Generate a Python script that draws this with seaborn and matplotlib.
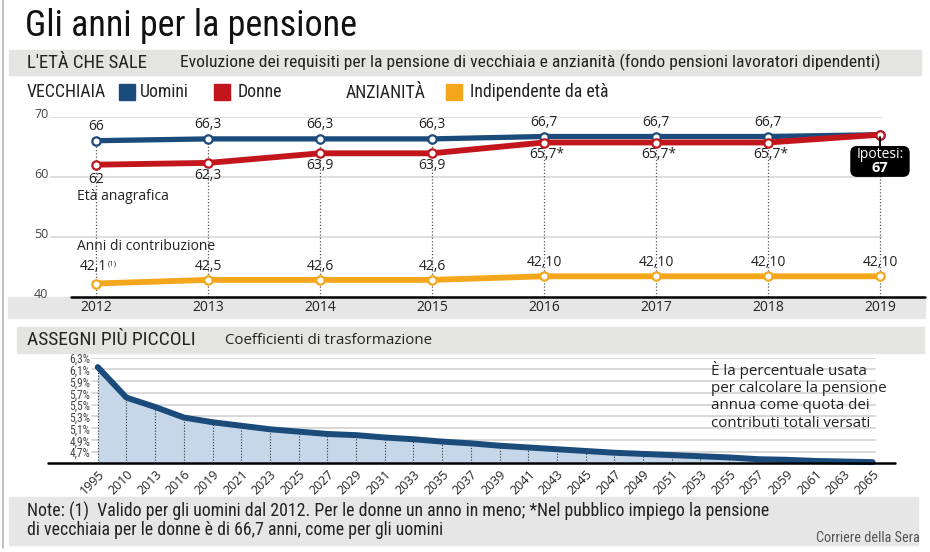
import matplotlib
matplotlib.use("Agg")
import matplotlib.pyplot as plt
import matplotlib.transforms as mtrans
import seaborn as sns
from matplotlib import font_manager
from matplotlib.patches import Rectangle, FancyBboxPatch
from matplotlib.lines import Line2D

# ---------------- data ----------------
years = [2012, 2013, 2014, 2015, 2016, 2017, 2018, 2019]
uomini = [66, 66.3, 66.3, 66.3, 66.7, 66.7, 66.7, 67]
donne = [62, 62.3, 63.9, 63.9, 65.7, 65.7, 65.7, 67]
anzianita = [42.2, 42.8, 42.8, 42.8, 43.4, 43.4, 43.4, 43.4]
uomini_labels = ["66", "66,3", "66,3", "66,3", "66,7", "66,7", "66,7", ""]
donne_labels = ["62", "62,3", "63,9", "63,9", "65,7*", "65,7*", "65,7*", ""]
anz_labels = ["42,1", "42,5", "42,6", "42,6", "42,10", "42,10", "42,10", "42,10"]
ipotesi_value = "67"
top_yticks = [40, 50, 60, 70]

coef_years = ["1995", "2010", "2013", "2016", "2019", "2021", "2023", "2025",
              "2027", "2029", "2031", "2033", "2035", "2037", "2039", "2041",
              "2043", "2045", "2047", "2049", "2051", "2053", "2055", "2057",
              "2059", "2061", "2063", "2065"]
coef_values = [6.14, 5.62, 5.46, 5.28, 5.20, 5.14, 5.08, 5.04,
               5.00, 4.98, 4.94, 4.91, 4.87, 4.84, 4.80, 4.77,
               4.74, 4.71, 4.68, 4.66, 4.64, 4.62, 4.60, 4.57,
               4.56, 4.54, 4.53, 4.52]
coef_yticks = [4.7, 4.9, 5.1, 5.3, 5.5, 5.7, 5.9, 6.1, 6.3]

# ---------------- style ----------------
sns.set_theme(style="white")
avail = {f.name for f in font_manager.fontManager.ttflist}


def pick(*names):
    for n in names:
        if n in avail:
            return n
    return "DejaVu Sans"


COND = pick("Roboto Condensed", "Liberation Sans Narrow", "Open Sans Condensed",
            "Noto Sans Condensed", "DejaVu Sans")
BODY = pick("Open Sans", "Noto Sans", "DejaVu Sans")
plt.rcParams["font.family"] = [BODY, "DejaVu Sans"]

BLUE = "#1b4b7b"
RED = "#c3161c"
YELLOW = "#f4a71c"
GREYBAR = "#e4e4e2"
TXT = "#222222"

W, H = 930, 552
fig = plt.figure(figsize=(9.3, 5.52), dpi=100)
fig.patch.set_facecolor("white")


def fx(px):
    return px / W


def fy(py):
    return 1 - py / H


def rect(x0, y0, x1, y1):
    return [x0 / W, 1 - y1 / H, (x1 - x0) / W, (y1 - y0) / H]


def bar(x0, y0, x1, y1, color=GREYBAR):
    fig.patches.append(Rectangle((fx(x0), fy(y1)), (x1 - x0) / W, (y1 - y0) / H,
                                 transform=fig.transFigure, color=color, zorder=0))


# left frame line
fig.add_artist(Line2D([fx(3), fx(3)], [fy(0), fy(548)], color="#b5b5b5", lw=1.2))

# ---------------- titles / headers ----------------
fig.text(fx(25), fy(36), "Gli anni per la pensione", family=COND, fontsize=26,
         color="#111111", va="baseline", ha="left")
bar(9, 50, 921, 75)
fig.text(fx(27), fy(62.5), "L'ETÀ CHE SALE", family=COND, fontsize=13.5, color=TXT, va="center")
fig.text(fx(180), fy(62.5),
         "Evoluzione dei requisiti per la pensione di vecchiaia e anzianità (fondo pensioni lavoratori dipendenti)",
         family=COND, fontsize=12.6, color=TXT, va="center")

# legend row
fig.text(fx(27), fy(92), "VECCHIAIA", family=COND, fontsize=12.8, color=TXT, va="center")
bar(119, 84, 135, 100, BLUE)
fig.text(fx(140), fy(92), "Uomini", family=COND, fontsize=12.8, color=TXT, va="center")
bar(214, 84, 230, 100, RED)
fig.text(fx(238), fy(92), "Donne", family=COND, fontsize=12.8, color=TXT, va="center")
fig.text(fx(346), fy(93), "ANZIANITÀ", family=COND, fontsize=12.8, color=TXT, va="center")
bar(446, 84, 462, 100, YELLOW)
fig.text(fx(470), fy(92), "Indipendente da età", family=COND, fontsize=12.8, color=TXT, va="center")

# grey band under the top x-axis
bar(8, 296.7, 925, 318, "#e6e6e6")

# ---------------- top chart ----------------
ax1 = fig.add_axes(rect(50, 116.7, 925, 296.7))
ax1.set_zorder(3)
ax1.set_facecolor("none")
ax1.set_ylim(40, 70)
ax1.set_xlim(2011.589, 2019.402)
for s in ax1.spines.values():
    s.set_visible(False)
ax1.set_xticks([])
ax1.set_yticks([])

for v in top_yticks[1:]:
    ax1.axhline(v, xmin=0, xmax=(882 - 50) / 875, color="#dcdcdc", lw=1.3, zorder=0)
ax1.axhline(40, xmin=(71 - 50) / 875, xmax=1, color="black", lw=1.8, zorder=2, clip_on=False)
for v in top_yticks:
    ax1.text(-0.002, v + 0.35, str(v), transform=ax1.get_yaxis_transform(),
             ha="right", va="center", fontsize=9, color="#444444")

ax1.vlines(years, 40, uomini, colors="#555555", linestyles=(0, (1, 1.6)), lw=0.9, zorder=1)

series = [(anzianita, YELLOW, 4.2), (uomini, BLUE, 3.8), (donne, RED, 4.2)]
for vals, col, lw in series:
    sns.lineplot(x=years, y=vals, color=col, lw=lw, marker="o", markersize=6,
                 markerfacecolor="white", markeredgecolor=col, markeredgewidth=1.6,
                 ax=ax1, zorder=3, clip_on=False, solid_capstyle="round")
ax1.set_xlabel("")
ax1.set_ylabel("")

for x, v, lab in zip(years, uomini, uomini_labels):
    if lab:
        ax1.annotate(lab, (x, v), xytext=(0, 10.3), textcoords="offset points",
                     ha="center", va="center", fontsize=10, color=TXT)
for x, v, lab in zip(years, donne, donne_labels):
    if lab:
        ax1.annotate(lab, (x, v), xytext=(2 if "*" in lab else 0, -8.8 if x > 2012 else -10.5),
                     textcoords="offset points", ha="center", va="center",
                     fontsize=10, color=TXT)
for x, v, lab in zip(years, anzianita, anz_labels):
    ax1.annotate(lab, (x, v), xytext=(-2 if x == 2012 else 0, 9.8 if x > 2012 else 12),
                 textcoords="offset points", ha="center", va="center",
                 fontsize=10, color=TXT)
ax1.annotate("(1)", (years[0], anzianita[0]), xytext=(8.3, 14.3), textcoords="offset points",
             ha="left", va="center", fontsize=5.5, color=TXT)

ax1.text(2011.83, 56.7, "Età anagrafica", fontsize=10, color=TXT, va="center", ha="left")
ax1.text(2011.83, 48.3, "Anni di contribuzione", fontsize=10, color=TXT, va="center", ha="left")

# year labels on the grey band
for x in years:
    ax1.annotate(str(x), (x, 40), xytext=(0, -7.6), textcoords="offset points",
                 ha="center", va="center", fontsize=10, color=TXT, annotation_clip=False)

# Ipotesi box (offsets in inches relative to the 2019 point)
anchor = fig.dpi_scale_trans + mtrans.ScaledTranslation(years[-1], uomini[-1], ax1.transData)
ax1.add_line(Line2D([0, 0], [-0.02, -0.12], transform=anchor, color="black", lw=1.3, zorder=4))
box = FancyBboxPatch((-0.29, -0.415), 0.58, 0.295, boxstyle="round,pad=0,rounding_size=0.06",
                     transform=anchor, fc="black", ec="black", zorder=5, clip_on=False)
ax1.add_patch(box)
ax1.text(0, -0.20, "Ipotesi:", transform=anchor, ha="center", va="center",
         fontsize=10, color="white", zorder=6)
ax1.text(0, -0.335, ipotesi_value, transform=anchor, ha="center", va="center",
         fontsize=10.5, color="white", fontweight="bold", zorder=6)

# ---------------- bottom header ----------------
bar(17, 327, 924, 353)
fig.text(fx(27), fy(340), "ASSEGNI PIÙ PICCOLI", family=COND, fontsize=14, color=TXT, va="center")
fig.text(fx(225), fy(340.5), "Coefficienti di trasformazione", fontsize=10.8, color=TXT, va="center")

# ---------------- bottom chart ----------------
ax2 = fig.add_axes(rect(48, 357.7, 895, 463.3))
ax2.set_zorder(3)
ax2.set_facecolor("none")
xs = list(range(len(coef_years)))
ax2.set_xlim(-1.732, 27.78)
ax2.set_ylim(4.5, 6.3)
for s in ax2.spines.values():
    s.set_visible(False)
for v in coef_yticks:
    ax2.axhline(v, xmin=(92 - 48) / 847, xmax=(875 - 48) / 847, color="#d6d6d6", lw=1.3, zorder=0)
    ax2.text((90.5 - 48) / 847, v - 0.035, f"{v:.1f}%".replace(".", ","),
             transform=ax2.get_yaxis_transform(), ha="right", va="center",
             family=COND, fontsize=8.3, color="#444444")
ax2.fill_between(xs, 4.5, coef_values, color="#c7d7ea", lw=0, zorder=1)
ax2.vlines(xs, 4.5, coef_values, colors="#333333", linestyles=(0, (1, 1.6)), lw=0.8, zorder=2)
sns.lineplot(x=xs, y=coef_values, color=BLUE, lw=4.3, ax=ax2, zorder=3,
             solid_capstyle="round", clip_on=False)
ax2.axhline(4.5, color="black", lw=1.8, zorder=4, clip_on=False)
ax2.set_xticks(xs)
ax2.set_xticklabels(coef_years, rotation=45, ha="right", rotation_mode="anchor",
                    fontsize=9, color=TXT)
ax2.tick_params(axis="x", length=0, pad=3)
ax2.set_yticks([])
ax2.set_xlabel("")
ax2.set_ylabel("")

fig.text(fx(711), fy(361),
         "È la percentuale usata\nper calcolare la pensione\nannua come quota dei\ncontributi totali versati",
         fontsize=10.9, color=TXT, va="top", ha="left", linespacing=1.2)

# ---------------- notes ----------------
bar(9, 497, 918, 545, "#e6e6e6")
fig.text(fx(27), fy(511.5),
         "Note: (1)  Valido per gli uomini dal 2012. Per le donne un anno in meno; *Nel pubblico impiego la pensione",
         family=COND, fontsize=12.8, color=TXT, va="center")
fig.text(fx(27), fy(530),
         "di vecchiaia per le donne è di 66,7 anni, come per gli uomini",
         family=COND, fontsize=12.8, color=TXT, va="center")
fig.text(fx(920), fy(538), "Corriere della Sera", family=COND, fontsize=10.3,
         color="#555555", va="center", ha="right")

fig.savefig("out.png", dpi=100)
